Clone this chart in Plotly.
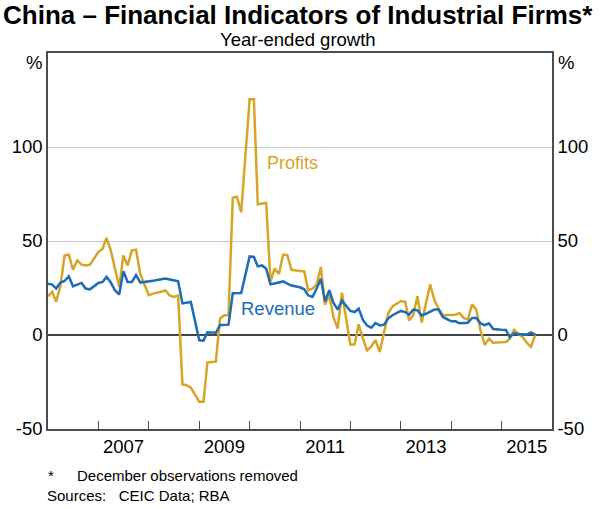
import plotly.graph_objects as go

# Monthly observations, December removed (Jan-Nov each year; 2015 to Sep)
years = list(range(2006, 2016))
months_per_year = {y: list(range(1, 12)) for y in years}
months_per_year[2015] = list(range(1, 10))

profits_by_year = {
    2006: [20.6, 23.0, 17.6, 26.0, 42.3, 42.7, 34.7, 39.7, 37.4, 37.0, 37.4],
    2007: [44.2, 45.9, 51.6, 45.0, 35.3, 25.5, 42.3, 37.0, 45.0, 45.4, 32.4],
    2008: [21.2, 22.0, 22.3, 23.0, 23.7, 21.0, 20.3, 21.0, -26.3, -26.7, -28.0],
    2009: [-35.5, -35.5, -14.6, -14.4, -14.2, 8.8, 10.5, 10.5, 73.0, 73.5, 65.3],
    2010: [125.4, 125.4, 69.5, 70.0, 70.2, 28.5, 35.3, 32.4, 42.8, 42.5, 34.6],
    2011: [34.1, 33.8, 23.8, 24.7, 26.8, 36.1, 16.1, 21.4, 9.4, 3.4, 22.5],
    2012: [-5.1, -5.0, 5.7, -2.0, -8.2, -6.0, -2.8, -9.0, 1.6, 11.4, 15.2],
    2013: [18.1, 17.6, 7.8, 10.5, 20.6, 6.6, 15.9, 26.9, 18.4, 14.0, 10.5],
    2014: [10.8, 10.8, 11.7, 9.1, 8.2, 16.3, 13.5, 2.4, -5.2, -2.0, -4.1],
    2015: [-3.9, -3.7, -2.0, 2.8, 0.7, -1.0, -4.0, -6.4, -0.1],
}

revenue_by_year = {
    2006: [27.3, 26.8, 24.7, 27.9, 28.7, 31.2, 25.9, 27.0, 27.7, 24.7, 24.3],
    2007: [27.7, 28.2, 30.9, 27.9, 23.8, 21.5, 33.9, 28.2, 28.2, 31.8, 27.9],
    2008: [28.3, 28.8, 29.3, 29.7, 30.0, 29.5, 29.0, 28.6, 16.8, 17.0, 17.6],
    2009: [-2.8, -3.0, 1.4, 1.3, 1.2, 5.3, 5.5, 5.5, 22.2, 22.2, 22.3],
    2010: [41.8, 41.5, 36.5, 37.0, 35.3, 27.0, 27.4, 27.8, 28.5, 27.3, 26.3],
    2011: [25.4, 24.3, 21.1, 20.2, 24.6, 29.9, 17.9, 23.8, 17.0, 13.5, 18.3],
    2012: [12.8, 12.2, 14.0, 8.0, 5.0, 3.9, 6.4, 5.1, 5.5, 8.7, 10.5],
    2013: [12.8, 12.2, 10.8, 13.5, 13.1, 10.4, 11.3, 12.5, 13.5, 13.5, 9.6],
    2014: [7.3, 7.3, 6.2, 6.2, 6.5, 9.1, 9.1, 6.2, 5.3, 6.2, 3.2],
    2015: [2.8, 2.7, -1.2, 0.9, 0.5, 0.4, 0.2, 1.4, 0.2],
}

x_label_years = [2007, 2009, 2011, 2013, 2015]
x_tick_years = list(range(2007, 2016))
y_ticks = [-50, 0, 50, 100]

dates, profits, revenue = [], [], []
for y in years:
    for m, p, r in zip(months_per_year[y], profits_by_year[y], revenue_by_year[y]):
        dates.append(f"{y}-{m:02d}-01")
        profits.append(p)
        revenue.append(r)

GOLD = "#d6a527"
BLUE = "#1c6cb8"
AXIS = "#4d4d4d"
FONT = "Liberation Sans, Arial, sans-serif"

W, H = 600, 509
L, R, T, B = 48, 43, 53, 80
PW, PH = W - L - R, H - T - B


def px(x):
    return (x - L) / PW


def py(y):
    return (H - B - y) / PH


fig = go.Figure()
fig.add_trace(go.Scatter(x=dates, y=profits, mode="lines", name="Profits",
                         line=dict(color=GOLD, width=2.5), yaxis="y"))
fig.add_trace(go.Scatter(x=dates, y=revenue, mode="lines", name="Revenue",
                         line=dict(color=BLUE, width=2.5), yaxis="y"))
fig.add_trace(go.Scatter(x=[dates[0]], y=[0], mode="lines", showlegend=False,
                         line=dict(width=0), hoverinfo="skip", yaxis="y2"))

TICKSIZE = 18.5

fig.update_layout(
    width=W, height=H,
    margin=dict(l=L, r=R, t=T, b=B),
    paper_bgcolor="white", plot_bgcolor="white",
    showlegend=False,
    font=dict(family=FONT, size=TICKSIZE, color="black"),
    xaxis=dict(
        type="date",
        range=["2006-01-01", "2016-01-01"],
        tickmode="array",
        tickvals=[f"{y}-07-02" for y in x_label_years],
        ticktext=[str(y) for y in x_label_years],
        ticks="", showgrid=False, zeroline=False,
        showline=True, linecolor=AXIS, linewidth=1.5, mirror=True,
        tickfont=dict(size=TICKSIZE, family=FONT),
        minor=dict(tickmode="array", tickvals=[f"{y}-01-01" for y in x_tick_years],
                   ticks="inside", ticklen=8, tickcolor=AXIS, tickwidth=1.2, showgrid=False),
    ),
    yaxis=dict(
        range=[-50, 150], tickvals=y_ticks, ticktext=[str(v) for v in y_ticks],
        showgrid=True, gridcolor="#c8c8c8", gridwidth=1,
        zeroline=True, zerolinecolor="#444444", zerolinewidth=1.5,
        showline=True, linecolor=AXIS, linewidth=1.5,
        ticks="", tickfont=dict(size=TICKSIZE, family=FONT),
    ),
    yaxis2=dict(
        range=[-50, 150], tickvals=y_ticks, ticktext=[str(v) for v in y_ticks],
        overlaying="y", side="right", showgrid=False, zeroline=False,
        showline=True, linecolor=AXIS, linewidth=1.5,
        ticks="", tickfont=dict(size=TICKSIZE, family=FONT),
    ),
)


def note(text, x, y, size, anchor="center", color="black"):
    fig.add_annotation(text=text, xref="paper", yref="paper", x=px(x), y=py(y),
                       xanchor=anchor, yanchor="middle", showarrow=False,
                       font=dict(family=FONT, size=size, color=color))


note("<b>China – Financial Indicators of Industrial Firms*</b>", 300, 15, 26)
note("Year-ended growth", 300, 39, 18.5)
note("%", 44, 62, TICKSIZE, anchor="right")
note("%", 561, 62, TICKSIZE, anchor="left")
note("*", 46, 475, 15, anchor="left")
note("December observations removed", 75, 475, 15, anchor="left")
note("Sources:   CEIC Data; RBA", 45, 495, 15, anchor="left")

fig.add_annotation(text="Profits", x="2010-11-06", y=91.7, xref="x", yref="y",
                   showarrow=False, xanchor="center", yanchor="middle",
                   font=dict(family=FONT, size=18, color=GOLD))
fig.add_annotation(text="Revenue", x="2010-07-27", y=14.0, xref="x", yref="y",
                   showarrow=False, xanchor="center", yanchor="middle",
                   font=dict(family=FONT, size=18.5, color=BLUE))

fig.write_html("out.html", config={"displayModeBar": False},
               post_script="document.body.style.margin='0';")
